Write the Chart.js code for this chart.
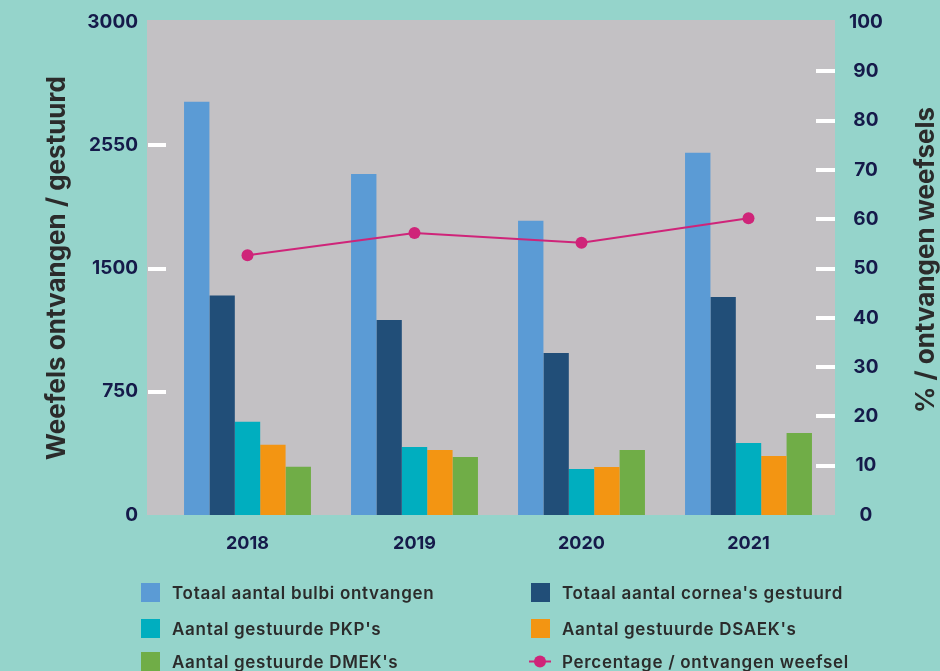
<!DOCTYPE html>
<html lang="nl">
<head>
    <meta charset="UTF-8">
    <script src="https://cdn.jsdelivr.net/npm/chart.js"></script>
    <title>Weefsels ontvangen en gestuurd</title>
    <style>
        body {
            margin: 0;
            background: #95d4cb;
        }
        .wrap {
            position: relative;
            width: 940px;
            height: 671px;
        }
        .legend {
            position: absolute;
            left: 0;
            top: 0;
            width: 940px;
            height: 671px;
            pointer-events: none;
            font-family: Inter, "Noto Sans", sans-serif;
            font-weight: 600;
            font-size: 17px;
            letter-spacing: 0.7px;
            color: #2b2b2b;
        }
        .legend .item {
            position: absolute;
            height: 20px;
            line-height: 20px;
            white-space: nowrap;
        }
        .legend .box {
            position: absolute;
            left: 0;
            top: 0;
            width: 19px;
            height: 19px;
        }
        .legend .txt {
            position: absolute;
            left: 31px;
            top: 0;
        }
    </style>
</head>
<body>
    <div class="wrap">
        <canvas id="weefselChart" width="940" height="671"></canvas>
        <div class="legend" id="legend"></div>
    </div>
    <script>
        const jaren = ['2018', '2019', '2020', '2021'];
        const bulbiOntvangen = [2515, 2075, 1790, 2205];
        const corneaGestuurd = [1335, 1187, 986, 1327];
        const pkpGestuurd = [567, 414, 280, 438];
        const dsaekGestuurd = [427, 396, 292, 359];
        const dmekGestuurd = [293, 353, 396, 499];
        const percentage = [52.7, 57.2, 55.2, 60.2];

        const linksTicks = [0, 750, 1500, 2250, 3000];
        const linksLabels = ['0', '750', '1500', '2550', '3000'];
        const rechtsTicks = [0, 10, 20, 30, 40, 50, 60, 70, 80, 90, 100];

        const kleuren = ['#5b9bd5', '#214e78', '#00aebf', '#f39512', '#70ad47'];
        const lijnKleur = '#cf2479';
        const tickKleur = '#151a4a';
        const titelKleur = '#2b2b2b';
        const fontNaam = 'Inter, "Noto Sans", sans-serif';

        // grijze achtergrond, witte streepjes en de astitels
        const achtergrond = {
            id: 'achtergrond',
            beforeDatasetsDraw(chart) {
                const ctx = chart.ctx;
                const area = chart.chartArea;
                const yL = chart.scales.y;
                const yR = chart.scales.y1;
                ctx.save();
                ctx.fillStyle = '#c3c1c4';
                ctx.fillRect(area.left - 17, area.top - 2, area.right - area.left + 20, area.bottom - area.top + 2);
                ctx.fillStyle = '#ffffff';
                [750, 1500, 2250].forEach(function (v) {
                    const y = Math.round(yL.getPixelForValue(v));
                    ctx.fillRect(area.left - 16, y - 2, 18, 4);
                });
                for (let v = 10; v <= 90; v += 10) {
                    const y = Math.round(yR.getPixelForValue(v));
                    ctx.fillRect(area.right - 16, y - 2, 19, 4);
                }
                ctx.restore();
            },
            afterDraw(chart) {
                const ctx = chart.ctx;
                ctx.save();
                ctx.fillStyle = titelKleur;
                ctx.font = 'bold 26px ' + fontNaam;
                ctx.textAlign = 'center';
                ctx.textBaseline = 'middle';
                ctx.translate(57, 268);
                ctx.rotate(-Math.PI / 2);
                ctx.fillText('Weefels ontvangen / gestuurd', 0, 0);
                ctx.restore();

                ctx.save();
                ctx.fillStyle = titelKleur;
                ctx.font = 'bold 26px ' + fontNaam;
                ctx.textAlign = 'center';
                ctx.textBaseline = 'middle';
                ctx.translate(926, 260);
                ctx.rotate(-Math.PI / 2);
                ctx.fillText('% / ontvangen weefsels', 0, 0);
                ctx.restore();
            }
        };

        function vasteBreedte(breedte) {
            return function (scale) {
                scale.width = breedte;
                scale.paddingTop = 0;
                scale.paddingBottom = 0;
            };
        }

        const ctx = document.getElementById('weefselChart').getContext('2d');
        const weefselChart = new Chart(ctx, {
            type: 'bar',
            data: {
                labels: jaren,
                datasets: [
                    { label: 'Totaal aantal bulbi ontvangen', data: bulbiOntvangen, backgroundColor: kleuren[0], yAxisID: 'y', order: 2 },
                    { label: "Totaal aantal cornea's gestuurd", data: corneaGestuurd, backgroundColor: kleuren[1], yAxisID: 'y', order: 2 },
                    { label: "Aantal gestuurde PKP's", data: pkpGestuurd, backgroundColor: kleuren[2], yAxisID: 'y', order: 2 },
                    { label: "Aantal gestuurde DSAEK's", data: dsaekGestuurd, backgroundColor: kleuren[3], yAxisID: 'y', order: 2 },
                    { label: "Aantal gestuurde DMEK's", data: dmekGestuurd, backgroundColor: kleuren[4], yAxisID: 'y', order: 2 },
                    {
                        type: 'line',
                        label: 'Percentage / ontvangen weefsel',
                        data: percentage,
                        yAxisID: 'y1',
                        borderColor: lijnKleur,
                        backgroundColor: lijnKleur,
                        borderWidth: 2,
                        pointRadius: 6,
                        pointBorderWidth: 0,
                        tension: 0,
                        order: 1
                    }
                ]
            },
            options: {
                responsive: false,
                animation: false,
                devicePixelRatio: 1,
                layout: { padding: { top: 22, left: 0, right: 0, bottom: 0 } },
                plugins: {
                    legend: { display: false },
                    tooltip: { enabled: false }
                },
                datasets: {
                    bar: { categoryPercentage: 0.76, barPercentage: 1.0 }
                },
                scales: {
                    x: {
                        grid: { display: false, drawTicks: false },
                        border: { display: false },
                        ticks: {
                            color: tickKleur,
                            font: { family: fontNaam, size: 18, weight: 'bold' },
                            padding: 18
                        },
                        afterFit(scale) {
                            scale.height = 156;
                            scale.paddingLeft = 0;
                            scale.paddingRight = 0;
                        }
                    },
                    y: {
                        position: 'left',
                        min: 0,
                        max: 3000,
                        grid: { display: false, drawTicks: false },
                        border: { display: false },
                        afterBuildTicks(scale) {
                            scale.ticks = linksTicks.map(function (v) { return { value: v }; });
                        },
                        ticks: {
                            color: tickKleur,
                            font: { family: fontNaam, size: 19, weight: 'bold' },
                            padding: 26,
                            callback: function (value, index) { return linksLabels[index]; }
                        },
                        afterFit: vasteBreedte(164)
                    },
                    y1: {
                        position: 'right',
                        min: 0,
                        max: 100,
                        grid: { display: false, drawTicks: false },
                        border: { display: false },
                        afterBuildTicks(scale) {
                            scale.ticks = rechtsTicks.map(function (v) { return { value: v }; });
                        },
                        ticks: {
                            color: tickKleur,
                            font: { family: fontNaam, size: 19, weight: 'bold' },
                            padding: 17,
                            crossAlign: 'center'
                        },
                        afterFit: vasteBreedte(108)
                    }
                }
            },
            plugins: [achtergrond]
        });

        // legenda in twee kolommen, zoals in het origineel
        const legendaPos = [
            [141, 583], [531, 583],
            [141, 619], [531, 619],
            [141, 652], [531, 652]
        ];
        const legenda = document.getElementById('legend');
        weefselChart.data.datasets.forEach(function (ds, i) {
            const item = document.createElement('div');
            item.className = 'item';
            item.style.left = legendaPos[i][0] + 'px';
            item.style.top = legendaPos[i][1] + 'px';
            let marker;
            if (ds.type === 'line') {
                marker = '<svg class="box" style="left:-2px;width:24px" width="24" height="19">' +
                    '<line x1="0" y1="9.5" x2="22" y2="9.5" stroke="' + ds.borderColor + '" stroke-width="2"/>' +
                    '<circle cx="11" cy="9.5" r="6" fill="' + ds.borderColor + '"/></svg>';
            } else {
                marker = '<div class="box" style="background:' + ds.backgroundColor + '"></div>';
            }
            item.innerHTML = marker + '<span class="txt">' + ds.label + '</span>';
            legenda.appendChild(item);
        });
    </script>
</body>
</html>
